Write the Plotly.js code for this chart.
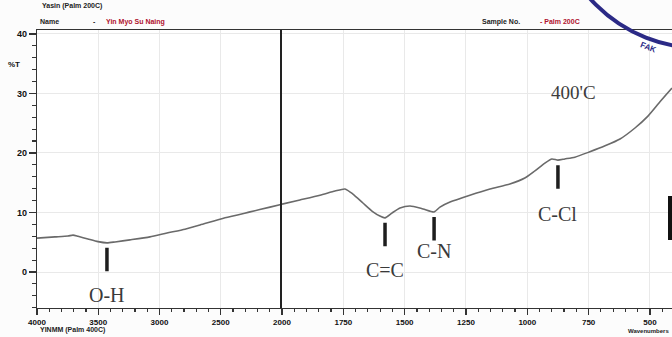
<!DOCTYPE html>
<html>
<head>
<meta charset="utf-8">
<script src="https://cdn.plot.ly/plotly-3.0.1.min.js"></script>
<style>html,body{margin:0;padding:0;background:#fcfcfc;}</style>
</head>
<body>
<div id="chart" style="width:672px;height:337px;"></div>
<script>
// ---- data ----
const wavenumber = [4000, 3853, 3747, 3706, 3665, 3584, 3502, 3429, 3363, 3241, 3078, 2939, 2792, 2669, 2465, 2261, 2098, 2000,
  1927, 1845, 1784, 1743, 1711, 1670, 1629, 1601, 1580, 1552, 1519, 1478, 1425, 1380, 1356, 1315, 1234, 1152, 1071, 1010,
  969, 928, 900, 875, 847, 806, 745, 683, 622, 561, 508, 459, 410];
const transmittance = [5.7, 5.9, 6.05, 6.2, 6.0, 5.55, 5.1, 4.9, 5.05, 5.4, 5.9, 6.55, 7.2, 7.9, 9.1, 10.1, 10.9, 11.4,
  12.1, 12.9, 13.6, 13.95, 13.1, 11.6, 10.1, 9.4, 9.1, 9.9, 10.75, 11.1, 10.6, 10.1, 10.9, 11.75, 12.9, 13.95, 14.8, 15.8,
  17.0, 18.3, 19.0, 18.8, 19.0, 19.3, 20.2, 21.2, 22.35, 24.2, 26.2, 28.6, 30.9];
const peakLabels = ["O-H", "C=C", "C-N", "C-Cl"];
const peakWavenumbers = [3429, 1580, 1380, 875];
const peakValues = [4.9, 9.1, 10.1, 18.8];
const yTicks = [0, 10, 20, 30, 40];
const xTicksLeft = [4000, 3500, 3000, 2500, 2000];
const xTicksRight = [1750, 1500, 1250, 1000, 750, 500];
const sampleName = "Yin Myo Su Naing";
const sampleNo = "- Palm 200C";
const curveLabel = "400'C";

// split at 2000 cm-1 (scale changes there)
const leftX = [], leftY = [], rightX = [], rightY = [];
wavenumber.forEach((w, i) => {
  if (w >= 2000) { leftX.push(w); leftY.push(transmittance[i]); }
  if (w <= 2000) { rightX.push(w); rightY.push(transmittance[i]); }
});

const lineStyle = {color: '#6a6a6a', width: 1.6, shape: 'spline', smoothing: 0.6};
const traces = [
  {x: leftX, y: leftY, xaxis: 'x', yaxis: 'y', mode: 'lines', line: lineStyle, hoverinfo: 'skip'},
  {x: rightX, y: rightY, xaxis: 'x2', yaxis: 'y2', mode: 'lines', line: lineStyle, hoverinfo: 'skip'}
];

const W = 672, H = 337, T = 30, B = 29;
const plotH = H - T - B;
const px = v => v / W;
const py = v => (H - B - v) / plotH;
const split = 282 / W;
const yRange = [-6.05, 40.67];
const tickFont = {family: 'Liberation Sans, Arial', size: 8, color: '#111', weight: 'bold'};

const yBase = {
  range: yRange, autorange: false, showgrid: true, gridcolor: '#e9e9e9', gridwidth: 1,
  zeroline: false, showline: true, linecolor: '#333', linewidth: 1.2
};

const layout = {
  width: W, height: H,
  margin: {l: 0, r: 0, t: T, b: B},
  paper_bgcolor: '#fcfcfc', plot_bgcolor: '#ffffff',
  showlegend: false,
  xaxis: {
    domain: [37 / W, split], range: [4000, 2000], autorange: false, anchor: 'y',
    tickvals: xTicksLeft, ticks: 'outside', ticklen: 6, tickwidth: 1.2, tickcolor: '#333',
    tickfont: tickFont, showgrid: true, gridcolor: '#e9e9e9', zeroline: false,
    showline: true, linecolor: '#333', linewidth: 1.2, mirror: true,
    minor: {dtick: 100, ticks: 'outside', ticklen: 3, tickcolor: '#333', showgrid: false}
  },
  xaxis2: {
    domain: [split, 1], range: [2000, 410], autorange: false, anchor: 'y2',
    tickvals: xTicksRight, ticks: 'outside', ticklen: 6, tickwidth: 1.2, tickcolor: '#333',
    tickfont: tickFont, showgrid: true, gridcolor: '#e9e9e9', zeroline: false,
    showline: true, linecolor: '#333', linewidth: 1.2, mirror: true,
    minor: {dtick: 50, ticks: 'outside', ticklen: 3, tickcolor: '#333', showgrid: false}
  },
  yaxis: Object.assign({}, yBase, {
    anchor: 'x', tickvals: yTicks, ticks: 'outside', ticklen: 7, tickwidth: 1.2, tickcolor: '#333',
    tickfont: Object.assign({}, tickFont, {size: 9}),
    minor: {dtick: 2, ticks: 'outside', ticklen: 4, tickcolor: '#333', showgrid: false}
  }),
  yaxis2: Object.assign({}, yBase, {
    anchor: 'x2', showticklabels: false, ticks: '', tickvals: yTicks, linecolor: '#222', linewidth: 1.6
  }),
  shapes: [
    // stamp arc at top right
    {type: 'circle', xref: 'paper', yref: 'paper',
     x0: px(553), x1: px(847), y0: py(48), y1: py(-246),
     line: {color: '#2b2a86', width: 4}},
    // dark bar at right edge
    {type: 'rect', xref: 'paper', yref: 'paper', x0: px(668), x1: px(672), y0: py(240), y1: py(196),
     fillcolor: '#111', line: {width: 0}}
  ],
  annotations: []
};

const hdr = (text, x, y, color, anchor, size) => ({
  text: text, xref: 'paper', yref: 'paper', x: px(x), y: py(y), xanchor: anchor || 'left', yanchor: 'middle',
  showarrow: false, font: {family: 'Liberation Sans, Arial', size: size || 7, color: color, weight: 'bold'}
});
layout.annotations.push(
  hdr('Yasin (Palm 200C)', 40, 6, '#222'),
  hdr('Name', 38, 22, '#222'),
  hdr('-', 91, 22, '#222'),
  hdr(sampleName, 104, 22, '#b0122e'),
  hdr('Sample No.', 480, 22, '#222'),
  hdr(sampleNo, 538, 22, '#b0122e'),
  hdr('%T', 14, 64, '#111', 'center', 8),
  hdr('YINMM (Palm 400C)', 38, 330, '#222'),
  hdr('Wavenumbers', 671, 331, '#222', 'right', 6)
);
layout.annotations.push({
  text: 'FAK', xref: 'paper', yref: 'paper', x: px(660), y: py(38), showarrow: false, textangle: 22,
  font: {family: 'Liberation Sans, Arial', size: 8, color: '#2b2a86', weight: 'bold'}
});
layout.annotations.push({
  text: curveLabel, xref: 'paper', yref: 'paper', x: px(598), y: py(80), showarrow: false,
  font: {family: 'Liberation Serif, Times New Roman, serif', size: 19, color: '#3c3c3c'}
});

const labelShift = [-52, -52, -39, -54];
peakLabels.forEach((lab, i) => {
  const w = peakWavenumbers[i];
  const xr = w >= 2000 ? 'x' : 'x2';
  const yr = w >= 2000 ? 'y' : 'y2';
  layout.annotations.push({
    text: '', x: w, y: peakValues[i], xref: xr, yref: yr, showarrow: true,
    ax: 0, ay: 30, arrowhead: 0, arrowwidth: 3.5, arrowcolor: '#1e1e1e', standoff: 5
  });
  layout.annotations.push({
    text: lab, x: w, y: peakValues[i], xref: xr, yref: yr, showarrow: false, yshift: labelShift[i],
    font: {family: 'Liberation Serif, Times New Roman, serif', size: 20, color: '#3a3a3a'}
  });
});

Plotly.newPlot('chart', traces, layout, {displayModeBar: false, staticPlot: true});
</script>
</body>
</html>
